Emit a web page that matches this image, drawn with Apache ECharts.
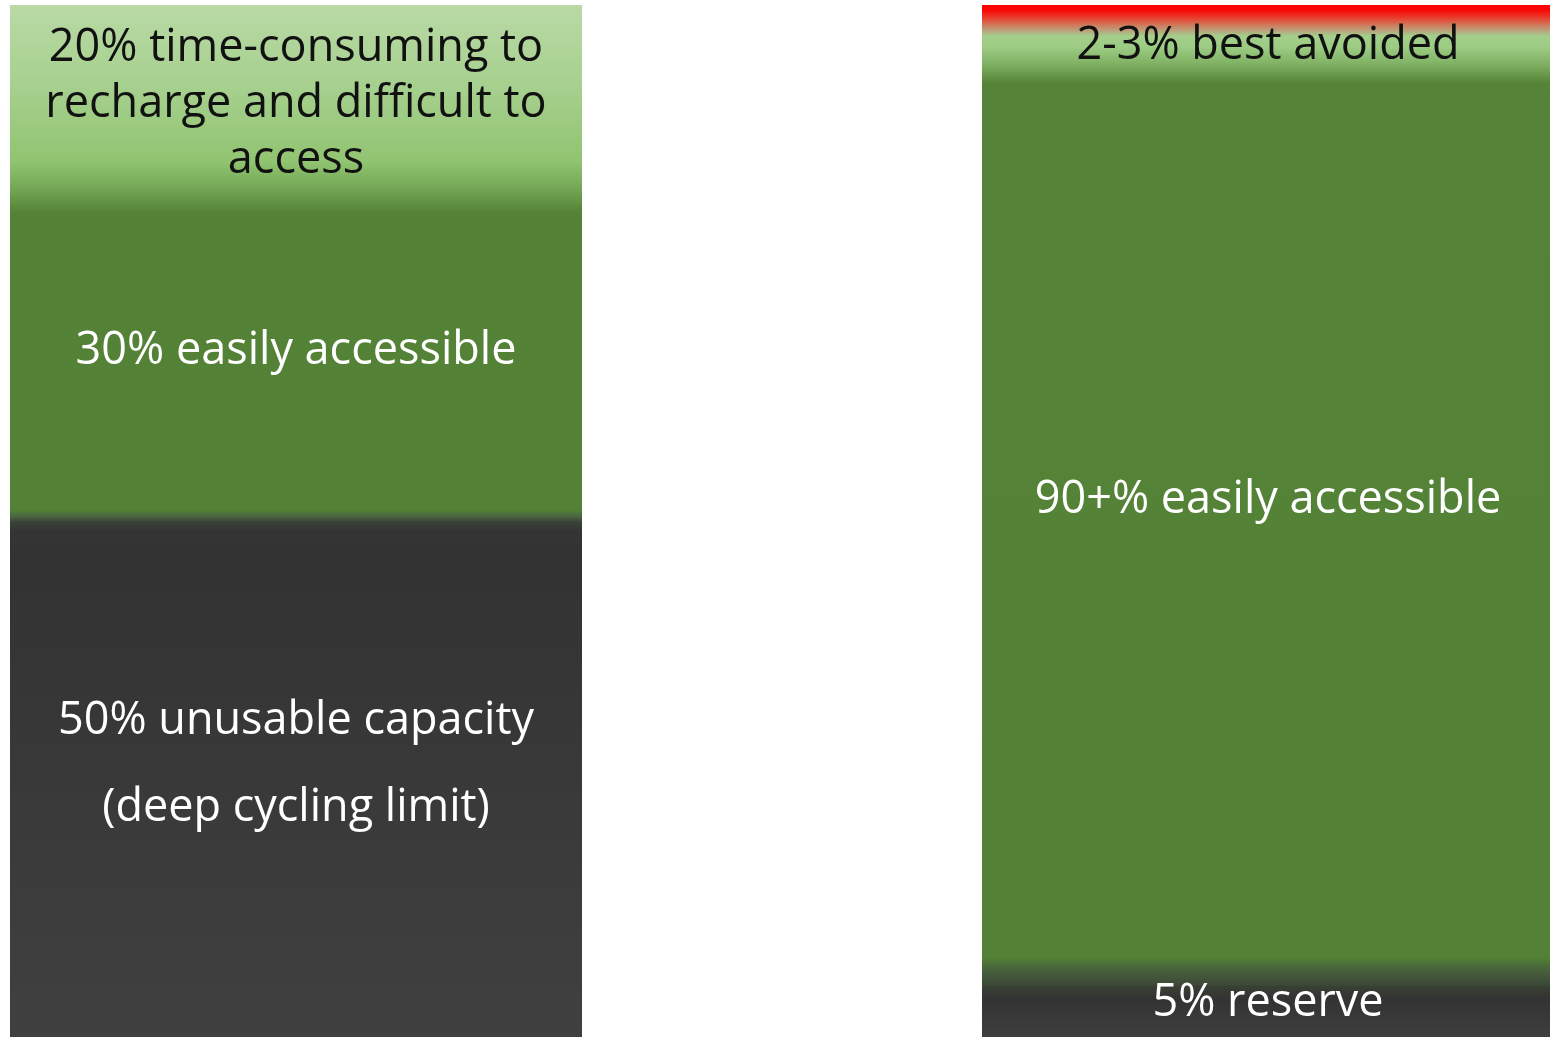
<!DOCTYPE html>
<html>
<head>
<meta charset="utf-8">
<script src="https://cdn.jsdelivr.net/npm/echarts@6/dist/echarts.min.js"></script>
<style>
html,body{margin:0;padding:0;background:#fff;}
#chart{width:1550px;height:1037px;}
</style>
</head>
<body>
<div id="chart"></div>
<script>
// ---- data ----
const categories = ['Lead-acid battery', 'Lithium battery'];
const bottomValues = [50, 5];
const middleValues = [30, 92];
const topValues = [20, 3];
const bottomLabels = ['50% unusable capacity\n(deep cycling limit)', '5% reserve'];
const middleLabels = ['30% easily accessible', '90+% easily accessible'];
const topLabels = ['20% time-consuming to\nrecharge and difficult to\naccess', '2-3% best avoided'];

// ---- styles ----
function grad(stops) {
  return { type: 'linear', x: 0, y: 0, x2: 0, y2: 1,
    colorStops: stops.map(s => ({ offset: s[0], color: s[1] })) };
}
const FONT = 'Open Sans';
const FS = 45;
const styles = {
  bottom: [
    { color: [[0,'#3b4437'],[0.02,'#343434'],[0.1,'#333333'],[1,'#404040']], text: '#ffffff', lh: 87, off: -14 },
    { color: [[0,'#384233'],[0.25,'#333333'],[1,'#3e3e3e']], text: '#ffffff', lh: 48, off: -8 }
  ],
  middle: [
    { color: [[0,'#548236'],[0.965,'#538135'],[0.985,'#4a6540'],[1,'#40493b']], text: '#ffffff', lh: 48, off: -15 },
    { color: [[0,'#a3cf8a'],[0.012,'#9ccb83'],[0.03,'#7fb062'],[0.05,'#558337'],[0.97,'#538135'],[0.985,'#475f3d'],[1,'#3c4837']], text: '#ffffff', lh: 48, off: -10 }
  ],
  top: [
    { color: [[0,'#b9d9a5'],[0.4,'#a6d08e'],[0.76,'#91c471'],[0.88,'#76a957'],[1,'#568439']], text: '#111111', lh: 56, off: -4 },
    { color: [[0,'#ff0000'],[0.15,'#fa0503'],[0.4,'#e83a2a'],[0.65,'#d07a5c'],[0.85,'#b8a77f'],[1,'#a3cf8a']], text: '#111111', lh: 48, off: 26 }
  ]
};
// colour shown through the hairline seams between stacked segments
const seamFill = [[0,'#a3cf8a'],[0.06,'#a3cf8a'],[0.2,'#558337'],[0.47,'#4a6540'],[0.5,'#3c453a'],[0.9,'#3a4336'],[0.95,'#384233'],[1,'#3e3e3e']];

function buildData(values, labels, st) {
  return values.map((v, i) => ({
    value: v,
    itemStyle: { color: grad(st[i].color) },
    label: {
      show: true,
      position: 'inside',
      formatter: labels[i],
      color: st[i].text,
      fontFamily: FONT,
      fontSize: FS,
      lineHeight: st[i].lh,
      offset: [0, st[i].off],
      align: 'center'
    }
  }));
}

const chart = echarts.init(document.getElementById('chart'), null, { renderer: 'canvas' });
const baseSeries = { type: 'bar', stack: 'soc', barWidth: 572, clip: false, silent: true };
chart.setOption({
  animation: false,
  backgroundColor: '#ffffff',
  grid: { left: 296, right: 282, top: 5, bottom: 0, containLabel: false },
  xAxis: { type: 'category', data: categories, boundaryGap: false, show: false },
  yAxis: { type: 'value', min: 0, max: 100, show: false },
  series: [
    Object.assign({ name: 'Lower', data: buildData(bottomValues, bottomLabels, styles.bottom),
      showBackground: true, backgroundStyle: { color: grad(seamFill) } }, baseSeries),
    Object.assign({ name: 'Middle', data: buildData(middleValues, middleLabels, styles.middle) }, baseSeries),
    Object.assign({ name: 'Upper', data: buildData(topValues, topLabels, styles.top) }, baseSeries)
  ]
});
</script>
</body>
</html>
